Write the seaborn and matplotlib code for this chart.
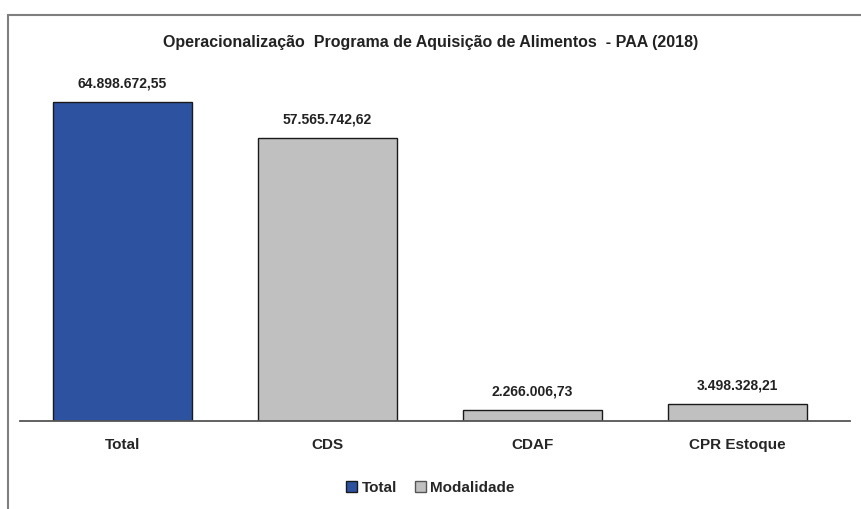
import pandas as pd
import matplotlib.pyplot as plt
import matplotlib.patches as mpatches
import seaborn as sns

# Dados do gráfico
categorias = ["Total", "CDS", "CDAF", "CPR Estoque"]
valores = [64898672.55, 57565742.62, 2266006.73, 3498328.21]
grupos = ["Total", "Modalidade", "Modalidade", "Modalidade"]
rotulos = ["64.898.672,55", "57.565.742,62", "2.266.006,73", "3.498.328,21"]

df = pd.DataFrame({"categoria": categorias, "valor": valores, "grupo": grupos})

sns.set_style("white")
plt.rcParams["font.family"] = ["Liberation Sans", "DejaVu Sans"]

cores = {"Total": "#2D52A0", "Modalidade": "#C0C0C0"}

fig = plt.figure(figsize=(8.61, 5.09), dpi=100)
ax = fig.add_axes([20 / 861, 1 - 421 / 509, 830 / 861, 344 / 509])

sns.barplot(data=df, x="categoria", y="valor", hue="grupo", palette=cores,
            dodge=False, width=0.68, saturation=1, edgecolor="#1a1a1a", linewidth=1.0,
            legend=False, ax=ax)

# rótulos de valor acima das barras
for bar in ax.patches:
    h = bar.get_height()
    if h <= 0:
        continue
    i = valores.index(h)
    ax.annotate(rotulos[i], (bar.get_x() + bar.get_width() / 2, h),
                xytext=(0, 8), textcoords="offset points", ha="center", va="bottom",
                fontsize=10, fontweight="bold", color="#222222")

ax.set_xlim(-0.5, 3.55)
ax.set_ylim(0, 70e6)
ax.set_xlabel("")
ax.set_ylabel("")
ax.set_yticks([])
ax.tick_params(axis="x", length=0, pad=12, labelsize=11)
for t in ax.get_xticklabels():
    t.set_fontweight("bold")
for s in ["top", "right", "left"]:
    ax.spines[s].set_visible(False)
ax.spines["bottom"].set_color("#555555")
ax.spines["bottom"].set_linewidth(1.3)

fig.text(0.5, 1 - 42 / 509, "Operacionalização  Programa de Aquisição de Alimentos  - PAA (2018)",
         ha="center", va="center", fontsize=11.5, fontweight="bold", color="#222222")

handles = [mpatches.Patch(facecolor=cores["Total"], edgecolor="#1a1a1a", label="Total"),
           mpatches.Patch(facecolor=cores["Modalidade"], edgecolor="#555555", label="Modalidade")]
leg = fig.legend(handles=handles, loc="center", bbox_to_anchor=(0.5, 1 - 488 / 509), ncol=2,
                 frameon=False, fontsize=11, handlelength=0.7, handleheight=0.7,
                 handletextpad=0.3, columnspacing=1.2)
for t in leg.get_texts():
    t.set_fontweight("bold")

# moldura da área do gráfico
fig.patches.append(mpatches.Rectangle((8 / 861, -0.1), 1.2, (1 - 15 / 509) + 0.1,
                                      transform=fig.transFigure, fill=False,
                                      edgecolor="#7f7f7f", linewidth=1.5))

fig.savefig("out.png", dpi=100)
